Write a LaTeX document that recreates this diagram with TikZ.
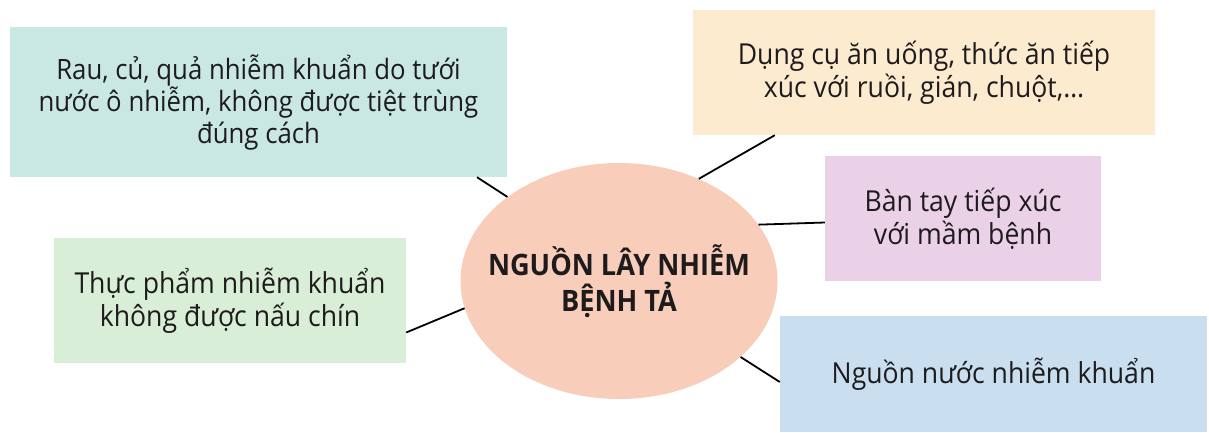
\documentclass[tikz,border=0pt]{standalone}
\usepackage{fontspec}
\setmainfont{Open Sans}[FakeStretch=0.92]
\usetikzlibrary{shapes.geometric,calc}
\definecolor{cteal}{HTML}{C9E8E3}
\definecolor{ccream}{HTML}{FDEBD0}
\definecolor{cpink}{HTML}{EBD1E8}
\definecolor{cgreen}{HTML}{D8EED6}
\definecolor{cblue}{HTML}{C9DFF0}
\definecolor{csalmon}{HTML}{F8CDB9}
\definecolor{ctext}{HTML}{1E1B1C}
\tikzset{
  box/.style={rectangle, inner sep=0pt, align=center, text=ctext,
    font=\fontsize{28.9}{33.5}\selectfont},
  hub/.style={ellipse, fill=csalmon, inner sep=0pt, minimum width=317pt,
    minimum height=236pt},
  hubtext/.style={inner sep=0pt, align=center, text=ctext,
    font=\bfseries\fontsize{29.5}{36}\selectfont},
  link/.style={draw=black, line width=1.8pt}
}
\begin{document}
\begin{tikzpicture}[x=1pt,y=-1pt]
\useasboundingbox (0,0) rectangle (1209,432);
\fill[white] (0,0) rectangle (1209,432);
\node[box, fill=cteal, minimum width=497pt, minimum height=150pt,
  font=\fontsize{28}{32}\selectfont] (b1) at (258.5,102)
  {Rau, củ, quả nhiễm khuẩn do tưới\\nước ô nhiễm, không được tiệt trùng\\đúng cách};
\node[box, fill=ccream, minimum width=462pt, minimum height=125pt] (b2) at (924,72.5)
  {Dụng cụ ăn uống, thức ăn tiếp\\xúc với ruồi, gián, chuột,…};
\node[box, fill=cpink, minimum width=276pt, minimum height=125pt] (b3) at (963,218.5)
  {Bàn tay tiếp xúc\\với mầm bệnh};
\node[box, fill=cgreen, minimum width=352pt, minimum height=125pt] (b4) at (230,300.5)
  {Thực phẩm nhiễm khuẩn\\không được nấu chín};
\node[box, fill=cblue, minimum width=427pt, minimum height=116pt] (b5) at (993.5,374)
  {\raisebox{-5pt}{Nguồn nước nhiễm khuẩn}};
\node[hub] (c) at (619,281) {};
\node[hubtext] (ct) at (c.center) {NGUỒN LÂY NHIỄM\\BỆNH TẢ};
\draw[link] ([xshift=218.5pt]b1.south) -- (c.143);
\draw[link] ([xshift=82pt]b2.south west) -- (c.52.5);
\draw[link] ([yshift=-4pt]b3.west) -- (c.22.6);
\draw[link] ([yshift=-32pt]b4.east) -- (c.190.5);
\draw[link] ([yshift=-8pt]b5.west) -- (c.-32.3);
\end{tikzpicture}
\end{document}
